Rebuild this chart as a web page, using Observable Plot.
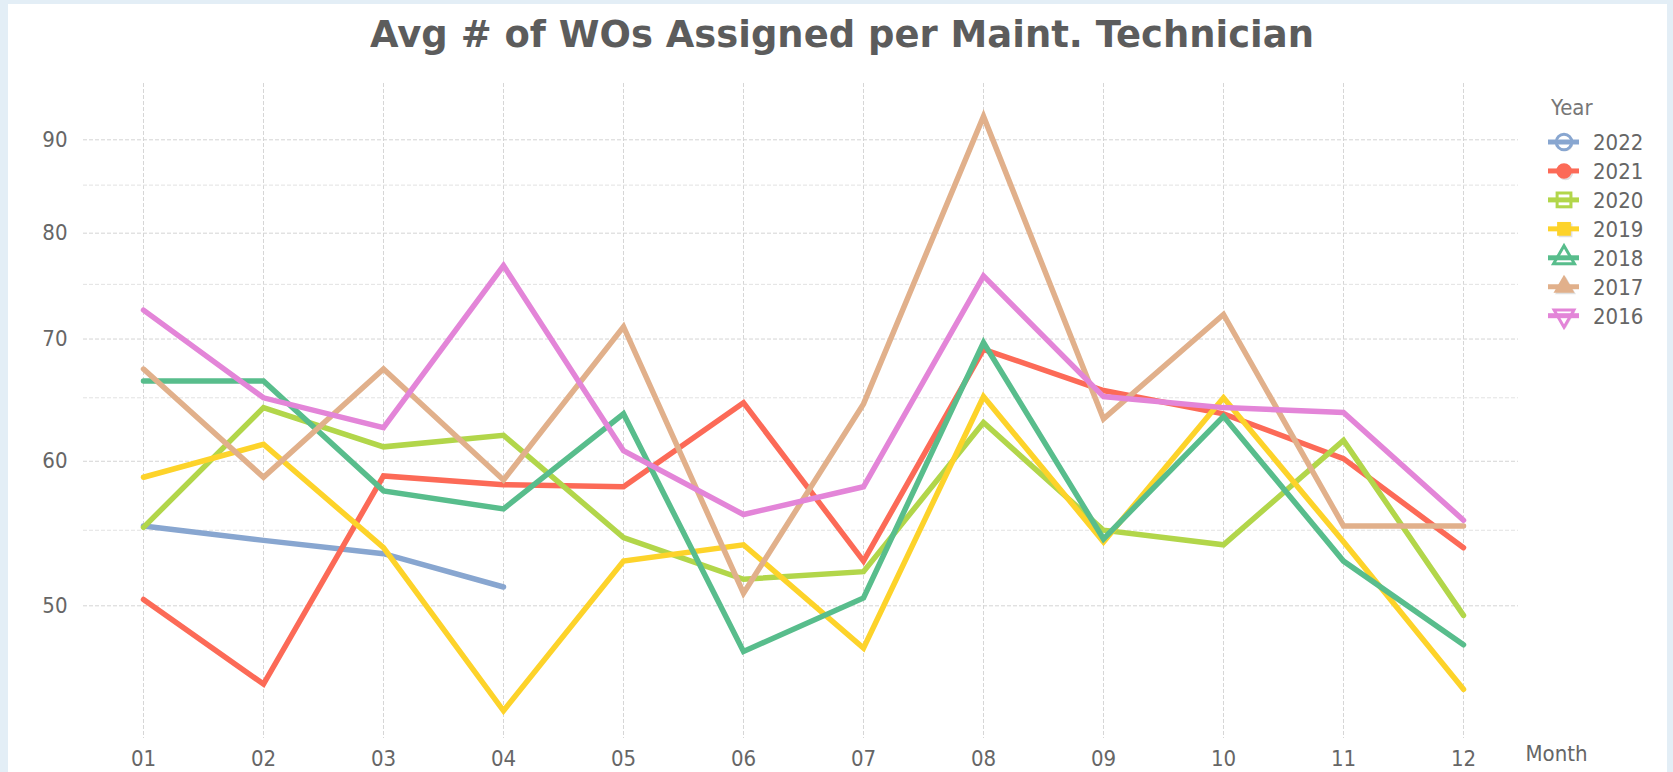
<!DOCTYPE html>
<html>
<head>
<meta charset="utf-8">
<script src="https://cdn.jsdelivr.net/npm/d3@7"></script>
<script src="https://cdn.jsdelivr.net/npm/@observablehq/plot@0.6"></script>
<style>
  html, body { margin: 0; padding: 0; }
  body { width: 1673px; height: 772px; overflow: hidden; position: relative; background: #e3eef6; }
  #panel { position: absolute; left: 8px; top: 4px; width: 1659px; height: 768px; background: #ffffff; }
  #title { position: absolute; left: 362px; top: 7px; white-space: nowrap; font-family: "DejaVu Sans", sans-serif; font-weight: bold; font-size: 38px; line-height: 46px; color: #5c5c5c; transform-origin: 0 0; }
  #chart { position: absolute; left: 0; top: 66px; }
  #legend { position: absolute; left: 0; top: 0; pointer-events: none; }
</style>
</head>
<body>
<div id="panel">
  <div id="title">Avg # of WOs Assigned per Maint. Technician</div>
  <div id="chart"></div>
</div>
<script>
// ---- data ----
const months = ["01","02","03","04","05","06","07","08","09","10","11","12"];
const years = ["2022","2021","2020","2019","2018","2017","2016"];
const yearColors = ["#88a6d0","#fc6a57","#b2d64a","#fdd32a","#58bd8c","#e1b08b","#e385d8"];
const yearSymbols = ["circle","circle","square","square","triangle","triangle","triangle-down"];
const yearHollow = [true,false,true,false,true,false,true];

const v2022 = [55.3, 54.3, 53.4, 51.2];
const v2021 = [50.4, 45.3, 58.9, 58.25, 58.1, 64.6, 52.9, 69.1, 65.6, 63.7, 60.2, 53.8];
const v2020 = [55.2, 64.2, 61.1, 62.0, 54.5, 51.7, 52.2, 63.0, 55.0, 54.0, 61.6, 49.4];
const v2019 = [58.8, 61.3, 53.8, 43.8, 52.9, 54.0, 47.4, 65.1, 54.2, 65.0, 54.2, 45.0];
const v2018 = [66.4, 66.4, 57.8, 56.5, 63.7, 47.2, 50.5, 69.7, 54.4, 63.5, 52.9, 47.6];
const v2017 = [67.4, 58.8, 67.4, 58.6, 71.1, 50.8, 64.5, 92.7, 63.3, 72.2, 55.3, 55.3];
const v2016 = [72.6, 65.0, 62.6, 76.8, 60.8, 56.1, 58.1, 75.8, 65.1, 64.2, 63.8, 55.7];

const yTicks = [50, 60, 70, 80, 90];
const yMinorTicks = [55, 65, 75, 85];
const xLabel = "Month";
const legendTitle = "Year";

const series = [v2022, v2021, v2020, v2019, v2018, v2017, v2016];
const rows = [];
series.forEach((vals, i) => vals.forEach((v, j) => rows.push({year: years[i], month: months[j], value: v})));

// ---- chart ----
const W = 1659, H = 702;
const font = "'DejaVu Sans Condensed', 'DejaVu Sans', sans-serif";
const chart = Plot.plot({
  width: W,
  height: H,
  marginLeft: 75,
  marginRight: 149,
  marginTop: 13,
  marginBottom: 34,
  style: {fontFamily: font, fontSize: "22px", color: "#666", background: "transparent", overflow: "visible"},
  x: {type: "point", domain: months, range: [134, 1456], padding: 0},
  y: {type: "log", domain: [50, 90], range: [535.3, 69.3]},
  color: {domain: years, range: yearColors},
  marks: [
    Plot.gridX({stroke: "#d6d6d6", strokeOpacity: 1, strokeWidth: 1, strokeDasharray: "4,2"}),
    Plot.gridY(yMinorTicks, {stroke: "#e2e2e2", strokeOpacity: 1, strokeWidth: 1, strokeDasharray: "4,2"}),
    Plot.gridY(yTicks, {stroke: "#d4d4d4", strokeOpacity: 1, strokeWidth: 1, strokeDasharray: "4,2"}),
    Plot.axisY(yTicks, {tickSize: 0, tickPadding: 16, label: null, tickFormat: d => String(d), fill: "#666"}),
    Plot.axisX({tickSize: 0, tickPadding: 12, label: null, fill: "#666"}),
    Plot.lineY(rows, {x: "month", y: "value", z: "year", stroke: "year", strokeWidth: 5.5, strokeLinejoin: "miter", strokeMiterlimit: 4}),
    Plot.text([xLabel], {frameAnchor: "bottom-right", textAnchor: "start", dx: 7, dy: 22, fill: "#666"})
  ]
});
document.getElementById("chart").appendChild(chart);

// ---- legend ----
const panel = document.getElementById("panel");
const lg = d3.select(panel).append("svg").attr("id", "legend").attr("width", 1659).attr("height", 768)
  .style("font-family", font).style("font-size", "22px");
const lx = 1555 - 8;   // symbol left anchor (panel coords)
const ly0 = 142 - 4;   // first item center
const step = 28.95;
lg.append("text").attr("x", 1551 - 8).attr("y", 107 - 4).attr("dy", "0.36em").attr("fill", "#777").text(legendTitle);
years.forEach((yr, i) => {
  const cy = ly0 + i * step;
  const g = lg.append("g");
  const col = yearColors[i];
  const sym = yearSymbols[i];
  let path;
  if (sym === "triangle-down") {
    path = d3.symbol(d3.symbolTriangle, 170)();
  } else {
    path = d3.symbol(sym === "circle" ? d3.symbolCircle : sym === "square" ? d3.symbolSquare : d3.symbolTriangle, 190)();
  }
  const rot = sym === "triangle-down" ? " rotate(180)" : "";
  const tr = `translate(${lx + 9},${cy})` + rot;
  const drawLine = () => g.append("line").attr("x1", lx - 7).attr("x2", lx + 24).attr("y1", cy).attr("y2", cy)
    .attr("stroke", col).attr("stroke-width", 5);
  g.append("path").attr("d", path).attr("fill", "#000").attr("opacity", 0.12)
    .attr("transform", `translate(${lx + 10.5},${cy + 1.5})` + rot);
  if (yearHollow[i]) {
    g.append("path").attr("d", path).attr("transform", tr).attr("fill", "#fff").attr("stroke", col).attr("stroke-width", 3);
    drawLine();
  } else {
    drawLine();
    g.append("path").attr("d", path).attr("transform", tr).attr("fill", col);
  }
  lg.append("text").attr("x", 1593 - 8).attr("y", cy).attr("dy", "0.36em").attr("fill", "#666").text(yr);
});

// ---- fit title to reference width ----
const t = document.getElementById("title");
const w = t.getBoundingClientRect().width;
t.style.transform = `scaleX(${944 / w})`;
</script>
</body>
</html>
